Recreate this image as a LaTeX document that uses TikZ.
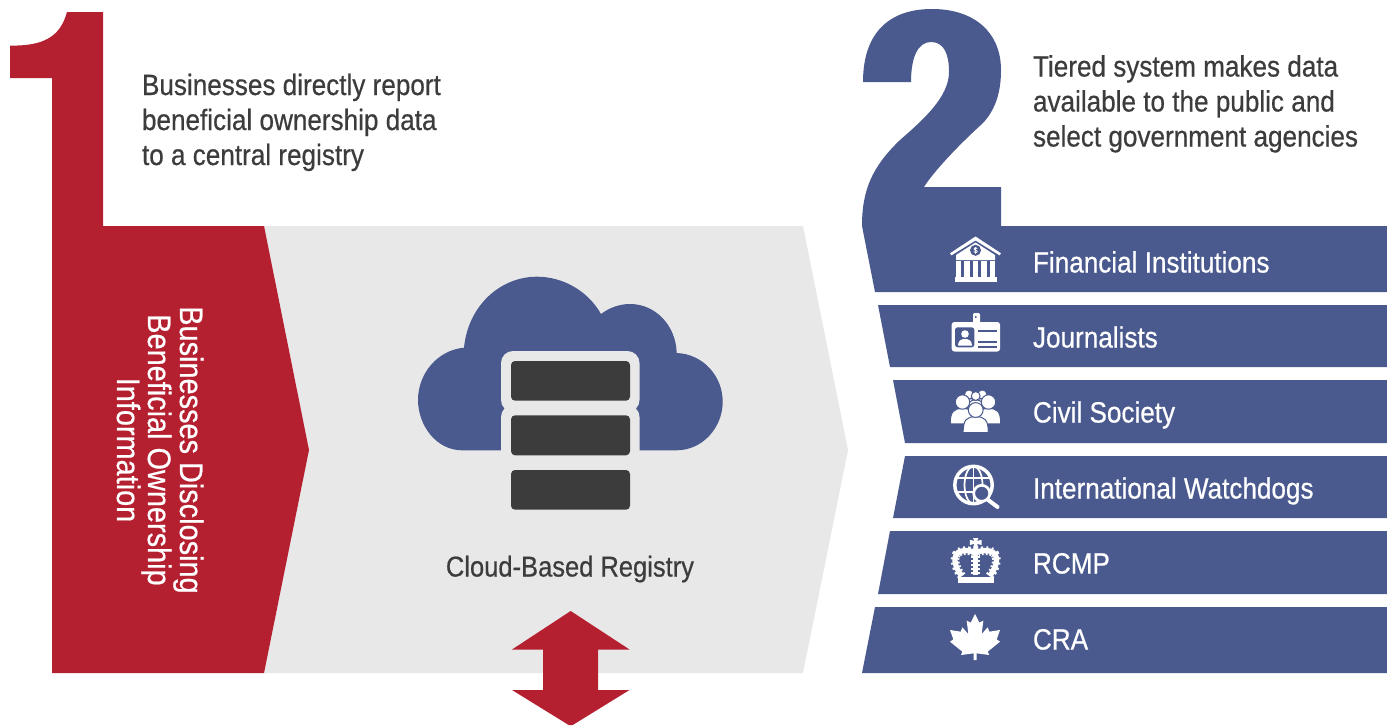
\documentclass[tikz,border=0pt]{standalone}
\usepackage{fontspec}
\setmainfont[FakeStretch=0.89,FakeBold=0.55]{Liberation Sans}
\definecolor{redc}{HTML}{B52030}
\definecolor{bluec}{HTML}{4A5A8E}
\definecolor{grayc}{HTML}{E8E8E8}
\definecolor{darkc}{HTML}{3B3C3B}
\tikzset{
  lbl/.style={inner sep=0pt,outer sep=0pt,font=\fontsize{22}{26}\selectfont},
  toptext/.style={lbl,text=darkc,anchor=base west},
  tier/.style={lbl,text=white,anchor=base west},
  vert/.style={lbl,text=white,rotate=-90,anchor=base,font=\fontsize{24.35}{28}\selectfont},
  server/.style={fill=darkc,rounded corners=3pt},
  halo/.style={fill=grayc,rounded corners=9pt},
  ink/.style={fill=white,draw=none},
  hole/.style={fill=bluec,draw=none},
  person/.style={fill=white,draw=bluec,line width=.75pt}
}
\newcommand{\crowdfig}[3]{%
  \filldraw[person] (#1-1.7*#3,#2+3.05*#3) .. controls (#1-1.7*#3,#2+1.3*#3) and (#1-1.2*#3,#2+.9*#3) .. (#1,#2+.9*#3)
     .. controls (#1+1.2*#3,#2+.9*#3) and (#1+1.7*#3,#2+1.3*#3) .. (#1+1.7*#3,#2+3.05*#3) -- cycle;
  \filldraw[person] (#1,#2) circle[radius=#3];
}
\begin{document}
\begin{tikzpicture}[x=.75pt,y=-.75pt]
\useasboundingbox (0,0) rectangle (1387,725);
% gray chevron
\fill[grayc] (249,226) -- (803,226) -- (848,450) -- (803,673) -- (250,673) -- cycle;
% red "1"
\fill[redc] (67,12) -- (103,12) -- (103,226) -- (264,226) -- (309,450) -- (264,673) -- (52,673) -- (52,78) -- (10,78) -- (10,45.6)
  .. controls (42,46) and (60,38) .. (67,12) -- cycle;
% blue "2" and first bar
\fill[bluec] (1001,187) -- (924,187) .. controls (930,177) and (950,153) .. (983,123)
  .. controls (994,111) and (1001,95) .. (1001,70)
  .. controls (1001,33) and (975,9) .. (932,9)
  .. controls (887,9) and (863,35) .. (863,82)
  -- (911,82) .. controls (911,57) and (918,42) .. (931,42)
  .. controls (944,42) and (949,54) .. (949,72)
  .. controls (949,97) and (923,120) .. (900,140)
  .. controls (872,167) and (862,190) .. (862,226)
  -- (875,292) -- (1387,292) -- (1387,226) -- (1001,226) -- cycle;
% bars
\fill[bluec] (878,305) -- (1387,305) -- (1387,367) -- (890,367) -- cycle;
\fill[bluec] (893,380) -- (1387,380) -- (1387,443) -- (905,443) -- cycle;
\fill[bluec] (905,456) -- (1387,456) -- (1387,518) -- (893,518) -- cycle;
\fill[bluec] (890,531) -- (1387,531) -- (1387,594) -- (878,594) -- cycle;
\fill[bluec] (875,607) -- (1387,607) -- (1387,673) -- (862,673) -- cycle;
% cloud
\fill[bluec] (501.7,450.3) -- (462,450.3) .. controls (436,450.3) and (418,425) .. (418,400)
  .. controls (418,373) and (438,350) .. (464,347.7)
  .. controls (468,306) and (500,276.7) .. (537,276.7)
  .. controls (563,276.7) and (588,291) .. (601,314)
  .. controls (609,308) and (619,304) .. (630,304)
  .. controls (656,304) and (676,326) .. (676.7,353)
  .. controls (703,354) and (722.7,376) .. (722.7,401.7)
  .. controls (722.7,428) and (702,450.3) .. (676.7,450.3)
  -- (640,450.3) -- cycle;
\fill[halo] (501,351) rectangle (639.5,412);
\fill[halo] (501,405) rectangle (639.5,470);
\fill[server] (511,361) rectangle (630,400.7);
\fill[server] (511,415.3) rectangle (630,455.3);
\fill[server] (511,470) rectangle (630,509.7);
% double arrow
\fill[redc] (570.7,611) -- (629.5,649.5) -- (598,649.5) -- (598,690) -- (629.5,690) -- (572.7,725) -- (568.7,725) -- (512,690) -- (543,690) -- (543,649.5) -- (512,649.5) -- cycle;
% texts
\node[toptext] (t1a) at (142,95) {Businesses directly report};
\node[toptext] (t1b) at (142,130) {beneficial ownership data};
\node[toptext] (t1c) at (142,165) {to a central registry};
\node[toptext] (t2a) at (1033,76.5) {Tiered system makes data};
\node[toptext] (t2b) at (1033,111.5) {available to the public and};
\node[toptext] (t2c) at (1033,146.5) {select government agencies};
\node[vert] (v1) at (180,450) {Businesses Disclosing};
\node[vert] (v2) at (148,450) {Beneficial Ownership};
\node[vert] (v3) at (117,450) {Information};
\node[lbl,text=darkc,anchor=base,font=\fontsize{21.5}{26}\selectfont] (reg) at (570,576.5) {Cloud-Based Registry};
\node[tier] (b1) at (1033,272.5) {Financial Institutions};
\node[tier] (b2) at (1033,347.5) {Journalists};
\node[tier] (b3) at (1033,422.5) {Civil Society};
\node[tier] (b4) at (1033,498.5) {International Watchdogs};
\node[tier] (b5) at (1033,573.5) {RCMP};
\node[tier] (b6) at (1033,649.5) {CRA};
% bank icon
\fill[ink] (975.5,236.5) -- (1001,253.3) -- (999.5,255.3) -- (975.5,240.5) -- (951.5,255.3) -- (950,253.3) -- cycle;
\fill[ink] (975.5,242.5) -- (995,255) -- (995,260) -- (956,260) -- (956,255) -- cycle;
\fill[hole] (975.5,250.3) circle[radius=5.5];
\node[inner sep=0pt,text=white,font=\fontsize{6}{6}\selectfont] (dollar) at (975.5,250.3) {\$};
\foreach \cx in {958.5,967,975.5,984,992.5} \fill[ink] (\cx-2.6,261) rectangle (\cx+2.6,277);
\fill[ink] (955,277) rectangle (997,282);
% id icon
\fill[ink,rounded corners=1pt] (973,313) rectangle (980,323);
\fill[hole] (975.7,317) circle[radius=1.1];
\fill[ink,rounded corners=2pt] (951.7,322) rectangle (1000,351.5);
\fill[hole,rounded corners=2pt] (955,327.3) rectangle (974.3,347.3);
\fill[ink] (965,334) circle[radius=3.8];
\fill[ink] (958,345.5) .. controls (958,340) and (962,339) .. (965,339) .. controls (968,339) and (972,340) .. (972,345.5) -- cycle;
\fill[hole] (978.3,329.7) rectangle (996.7,332);
\fill[hole] (978.3,340.7) rectangle (996.7,343);
\fill[hole] (978.3,345.6) rectangle (996.7,347.6);
% crowd icon
\crowdfig{969}{394.5}{4.6}
\crowdfig{982.3}{394.5}{4.6}
\crowdfig{975.7}{396}{4.4}
\crowdfig{962.5}{402}{7.2}
\crowdfig{988.5}{402}{7.2}
\crowdfig{975.7}{410}{7.4}
% globe icon
\draw[white,line width=2.6pt] (973.5,485) circle[radius=18.7];
\begin{scope}
  \clip (973.5,485) circle[radius=18.7];
  \draw[white,line width=1.3pt] (973.5,485) ellipse[x radius=9,y radius=18.7];
  \draw[white,line width=1.3pt] (973.5,466) -- (973.5,504);
  \draw[white,line width=1.3pt] (953,478) -- (994,478);
  \draw[white,line width=1.3pt] (953,492) -- (994,492);
\end{scope}
\filldraw[fill=bluec,draw=white,line width=2pt] (981.7,493.3) circle[radius=8];
\draw[white,line width=3pt,line cap=round] (987.5,499.5) -- (997.5,507);
% crown icon
\fill[ink] (958,576.5) rectangle (994,583);
\fill[ink] (973.2,552) rectangle (978.2,575);
\draw[white,line width=6.5pt,dash pattern=on 1.3pt off 1.7pt] (975.7,552) -- (975.7,575);
\foreach \flip in {-1,1}{
  \draw[white,line width=4pt] ({975.7+\flip*14},576) .. controls ({975.7+\flip*22},566) and ({975.7+\flip*24},553) .. ({975.7+\flip*14},551) .. controls ({975.7+\flip*8},550) and ({975.7+\flip*3},551) .. (975.7,553);
  \draw[white,line width=6.5pt,dash pattern=on 1.4pt off 2pt] ({975.7+\flip*14},576) .. controls ({975.7+\flip*22},566) and ({975.7+\flip*24},553) .. ({975.7+\flip*14},551) .. controls ({975.7+\flip*8},550) and ({975.7+\flip*3},551) .. (975.7,553);
}
\fill[ink] (973,538) -- (978.4,538) -- (977,541) -- (981.5,539.8) -- (981.5,545) -- (977,543.8) -- (978.4,547.5) -- (973,547.5) -- (974.4,543.8) -- (969.9,545) -- (969.9,539.8) -- (974.4,541) -- cycle;
\fill[ink] (973.7,546) rectangle (977.7,552);
% maple leaf icon
\begin{scope}[shift={(945,610)},x=.25pt,y=-.25pt]
\fill[ink] (90,12) -- (103,38) -- (115,32) -- (110,72) -- (128,52) -- (133,65) -- (165,60) -- (155,88) -- (165,95) -- (128,125) -- (133,135) -- (95,130) -- (95,150) -- (86,150) -- (86,130) -- (48,135) -- (52,125) -- (15,95) -- (25,88) -- (15,60) -- (47,65) -- (52,52) -- (70,72) -- (65,32) -- (77,38) -- cycle;
\end{scope}
\end{tikzpicture}
\end{document}
